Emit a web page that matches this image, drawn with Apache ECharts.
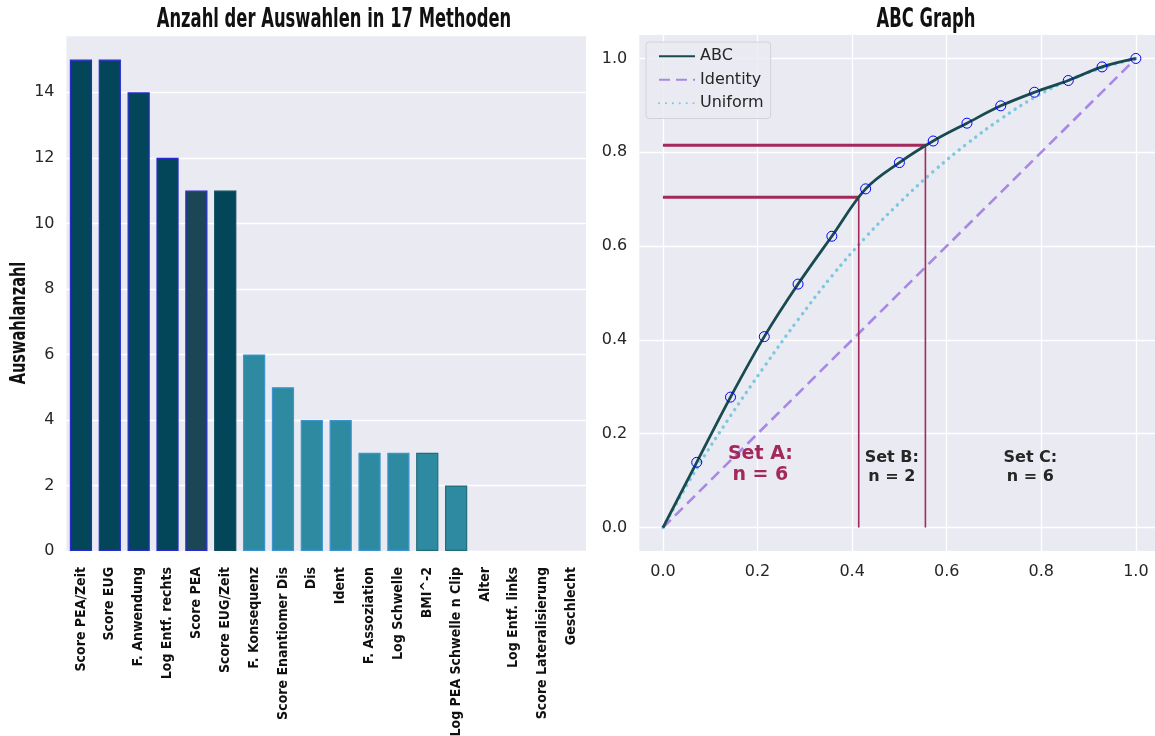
<!DOCTYPE html>
<html>
<head>
<meta charset="utf-8">
<title>Anzahl der Auswahlen / ABC Graph</title>
<script src="https://cdn.jsdelivr.net/npm/echarts@6/dist/echarts.min.js"></script>
<style>
  html, body { margin: 0; padding: 0; background: #ffffff; }
  #chart { width: 1155px; height: 736px; }
</style>
</head>
<body>
<div id="chart"></div>
<script>
// ---- Bar chart data: number of selections per method ----
const methods = [
  'Score PEA/Zeit', 'Score EUG', 'F. Anwendung', 'Log Entf. rechts', 'Score PEA',
  'Score EUG/Zeit', 'F. Konsequenz', 'Score Enantiomer Dis', 'Dis', 'Ident',
  'F. Assoziation', 'Log Schwelle', 'BMI^-2', 'Log PEA Schwelle n Clip', 'Alter',
  'Log Entf. links', 'Score Lateralisierung', 'Geschlecht'
];
const selectionCounts = [15, 15, 14, 12, 11, 11, 6, 5, 4, 4, 3, 3, 3, 2, 0, 0, 0, 0];

// ---- ABC curve data ----
const abcX = [0, 1/14, 2/14, 3/14, 4/14, 5/14, 6/14, 7/14, 8/14, 9/14, 10/14, 11/14, 12/14, 13/14, 1];
const abcY = [0, 0.139, 0.278, 0.407, 0.519, 0.621, 0.722, 0.778, 0.824, 0.862, 0.899, 0.928, 0.953, 0.982, 1.0];
const uniformY = [0, 0.126, 0.238, 0.343, 0.443, 0.536, 0.619, 0.692, 0.759, 0.818, 0.871, 0.917, 0.953, 0.98, 1.0];
const identityX = [0, 1];
const identityY = [0, 1];

// Set boundaries on the ABC curve (A|B and B|C)
const cutX = [0.414, 0.555];
const cutY = [0.704, 0.815];

// Set annotations
const setLabels = ['Set A:\nn = 6', 'Set B:\nn = 2', 'Set C:\nn = 6'];
const setLabelX = [0.206, 0.484, 0.777];
const setLabelY = [0.134, 0.128, 0.128];

const ticks01 = [0, 0.2, 0.4, 0.6, 0.8, 1.0];

// ---- Styles ----
const BG = '#EAEAF2';
const TICK_COLOR = '#262626';
const COND_FONT = "'Liberation Sans Narrow', 'DejaVu Sans Condensed', 'Roboto Condensed', sans-serif";
const BASE_FONT = "'DejaVu Sans', sans-serif";
const RED = '#a3285b';

function barFill(i) {
  if (i === 4) return '#1b4656';
  return i < 6 ? '#03465a' : '#2d8aa0';
}
function barEdge(i) {
  if (i < 5) return '#2a2ad2';
  if (i === 5) return '#0b4b5b';
  if (i < 12) return '#3c94d2';
  return '#236d7b';
}

const chart = echarts.init(document.getElementById('chart'), null, { renderer: 'canvas' });

const pairs = (xs, ys) => xs.map((x, i) => [x, ys[i]]);

const option = {
  backgroundColor: '#ffffff',
  animation: false,
  grid: [
    { left: 66.5, top: 35, width: 519.5, height: 516, backgroundColor: BG, show: true, borderWidth: 0, outerBoundsMode: 'none', containLabel: false },
    { left: 639.3, top: 35, width: 520.2, height: 516, backgroundColor: BG, show: true, borderWidth: 0, outerBoundsMode: 'none', containLabel: false }
  ],
  xAxis: [
    {
      type: 'category', gridIndex: 0, data: methods, boundaryGap: true,
      axisLine: { show: false }, axisTick: { show: false }, splitLine: { show: false },
      axisLabel: {
        rotate: 90, interval: 0, margin: 16,
        fontFamily: COND_FONT, fontWeight: 'bold', fontSize: 14, color: '#111111'
      }
    },
    {
      type: 'value', gridIndex: 1, min: -0.05, max: 1.05,
      axisLine: { show: false },
      axisTick: { show: false, customValues: ticks01 },
      splitLine: { show: true, lineStyle: { color: '#ffffff', width: 1.3 } },
      axisLabel: {
        customValues: ticks01, margin: 13,
        fontFamily: BASE_FONT, fontSize: 16, color: TICK_COLOR,
        formatter: v => v.toFixed(1)
      }
    }
  ],
  yAxis: [
    {
      type: 'value', gridIndex: 0, min: 0, max: 15.75, interval: 2,
      axisLine: { show: false }, axisTick: { show: false },
      splitLine: { show: true, lineStyle: { color: '#ffffff', width: 1.3 } },
      axisLabel: {
        showMaxLabel: false, margin: 12,
        fontFamily: BASE_FONT, fontSize: 16, color: TICK_COLOR
      }
    },
    {
      type: 'value', gridIndex: 1, min: -0.05, max: 1.05,
      axisLine: { show: false },
      axisTick: { show: false, customValues: ticks01 },
      splitLine: { show: true, lineStyle: { color: '#ffffff', width: 1.3 } },
      axisLabel: {
        customValues: ticks01, margin: 12,
        fontFamily: BASE_FONT, fontSize: 16, color: TICK_COLOR,
        formatter: v => v.toFixed(1)
      }
    }
  ],
  legend: {
    data: ['ABC', 'Identity', 'Uniform'],
    orient: 'vertical',
    left: 646, top: 42,
    itemWidth: 36, itemHeight: 14, itemGap: 5,
    padding: [5, 7, 6, 12],
    backgroundColor: 'rgba(234,234,242,0.85)',
    borderColor: '#d2d2d8', borderWidth: 1, borderRadius: 3,
    itemStyle: { opacity: 0 },
    textStyle: { fontFamily: BASE_FONT, fontSize: 16, color: TICK_COLOR, lineHeight: 18.5 }
  },
  graphic: [
    {
      type: 'text', x: 334, y: 20, scaleX: 0.70,
      style: {
        text: 'Anzahl der Auswahlen in 17 Methoden',
        font: "bold 26px " + COND_FONT, fill: '#111111',
        textAlign: 'center', textVerticalAlign: 'middle'
      }
    },
    {
      type: 'text', x: 926, y: 20, scaleX: 0.70,
      style: {
        text: 'ABC Graph',
        font: "bold 26px " + COND_FONT, fill: '#111111',
        textAlign: 'center', textVerticalAlign: 'middle'
      }
    },
    {
      type: 'text', x: 20, y: 323, rotation: Math.PI / 2, scaleX: 0.77,
      style: {
        text: 'Auswahlanzahl',
        font: "bold 21px " + COND_FONT, fill: '#111111',
        textAlign: 'center', textVerticalAlign: 'middle'
      }
    }
  ],
  series: [
    {
      name: 'Auswahlen', type: 'bar', xAxisIndex: 0, yAxisIndex: 0,
      barWidth: '77%',
      data: selectionCounts.map((v, i) => ({
        value: v,
        itemStyle: { color: barFill(i), borderColor: barEdge(i), borderWidth: v > 0 ? 1.2 : 0 }
      }))
    },
    {
      name: 'Identity', type: 'line', xAxisIndex: 1, yAxisIndex: 1,
      data: pairs(identityX, identityY), symbol: 'none', showSymbol: false,
      lineStyle: { color: '#a987e4', width: 2.6, type: [11, 6] },
      itemStyle: { color: '#a987e4' }, z: 2
    },
    {
      name: 'Uniform', type: 'line', xAxisIndex: 1, yAxisIndex: 1,
      data: pairs(abcX, uniformY), smooth: 0.4, symbol: 'none', showSymbol: false,
      lineStyle: { color: '#7cc9df', width: 3.4, type: [0.1, 6.8], cap: 'round' },
      itemStyle: { color: '#7cc9df' }, z: 3
    },
    {
      name: 'SetBounds', type: 'line', xAxisIndex: 1, yAxisIndex: 1,
      data: [[0, cutY[0]], [cutX[0], cutY[0]], null, [0, cutY[1]], [cutX[1], cutY[1]]],
      connectNulls: false, symbol: 'none', showSymbol: false, silent: true,
      lineStyle: { color: RED, width: 3 }, z: 4
    },
    {
      name: 'SetBoundsV', type: 'line', xAxisIndex: 1, yAxisIndex: 1,
      data: [[cutX[0], 0], [cutX[0], cutY[0]], null, [cutX[1], 0], [cutX[1], cutY[1]]],
      connectNulls: false, symbol: 'none', showSymbol: false, silent: true,
      lineStyle: { color: RED, width: 1.6 }, z: 4
    },
    {
      name: 'ABC', type: 'line', xAxisIndex: 1, yAxisIndex: 1,
      data: pairs(abcX, abcY), smooth: 0.35, symbol: 'none', showSymbol: false,
      lineStyle: { color: '#184a50', width: 2.8 },
      itemStyle: { color: '#184a50' }, z: 5
    },
    {
      name: 'ABCPoints', type: 'scatter', xAxisIndex: 1, yAxisIndex: 1,
      data: pairs(abcX, abcY).slice(1), symbol: 'circle', symbolSize: 10,
      itemStyle: { color: 'rgba(0,0,0,0)', borderColor: '#0000ff', borderWidth: 1, opacity: 1 },
      silent: true, z: 6
    },
    {
      name: 'SetLabels', type: 'scatter', xAxisIndex: 1, yAxisIndex: 1,
      symbolSize: 0, silent: true, z: 7,
      itemStyle: { opacity: 1 },
      data: setLabels.map((t, i) => ({
        value: [setLabelX[i], setLabelY[i]],
        label: {
          show: true, position: 'inside', formatter: t,
          fontFamily: BASE_FONT, fontWeight: 'bold',
          fontSize: i === 0 ? 19 : 16,
          lineHeight: i === 0 ? 21 : 19,
          color: i === 0 ? RED : '#262626', align: 'center'
        }
      }))
    }
  ]
};

chart.setOption(option);
</script>
</body>
</html>
